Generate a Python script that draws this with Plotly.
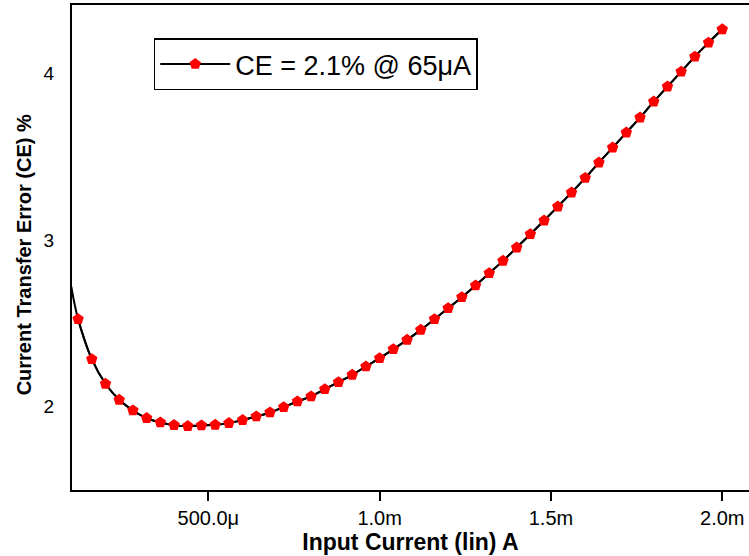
import plotly.graph_objects as go

# Input current (A) at each marker
current_a = [
    120e-6, 160e-6, 200e-6, 240e-6, 280e-6, 320e-6, 360e-6, 400e-6, 440e-6, 480e-6,
    520e-6, 560e-6, 600e-6, 640e-6, 680e-6, 720e-6, 760e-6, 800e-6, 840e-6, 880e-6,
    920e-6, 960e-6, 1000e-6, 1040e-6, 1080e-6, 1120e-6, 1160e-6, 1200e-6, 1240e-6, 1280e-6,
    1320e-6, 1360e-6, 1400e-6, 1440e-6, 1480e-6, 1520e-6, 1560e-6, 1600e-6, 1640e-6, 1680e-6,
    1720e-6, 1760e-6, 1800e-6, 1840e-6, 1880e-6, 1920e-6, 1960e-6, 2000e-6,
]
# Current transfer error (%) at each marker
ce_pct = [
    2.524, 2.284, 2.136, 2.040, 1.976, 1.930, 1.904, 1.888, 1.882, 1.886,
    1.890, 1.900, 1.918, 1.940, 1.964, 1.996, 2.030, 2.060, 2.104, 2.146,
    2.190, 2.240, 2.290, 2.344, 2.400, 2.460, 2.524, 2.590, 2.656, 2.726,
    2.800, 2.874, 2.954, 3.034, 3.116, 3.200, 3.284, 3.372, 3.464, 3.554,
    3.644, 3.734, 3.830, 3.920, 4.010, 4.100, 4.184, 4.264,
]
# Curve start (continuous simulation line begins before the first marker)
line_start_x = [100e-6]
line_start_y = [2.72]

x_tickvals = [500e-6, 1.0e-3, 1.5e-3, 2.0e-3]
x_ticktext = ["500.0\u03bc", "1.0m", "1.5m", "2.0m"]
y_tickvals = [2, 3, 4]
y_ticktext = ["2", "3", "4"]

legend_name = "CE = 2.1% @ 65\u03bcA"
x_title = "Input Current (lin) A"
y_title = "Current Transfer Error (CE) %"

FONT = "Arial, 'Liberation Sans', sans-serif"

fig = go.Figure()
fig.add_trace(go.Scatter(
    x=line_start_x + current_a, y=line_start_y + ce_pct,
    mode="lines", line=dict(color="black", width=2, shape="spline"),
    showlegend=False, hoverinfo="skip",
))
fig.add_trace(go.Scatter(
    x=current_a, y=ce_pct, name=legend_name,
    mode="lines+markers",
    line=dict(color="black", width=2, shape="spline"),
    marker=dict(symbol="pentagon", size=12, color="red", line=dict(width=0)),
))

fig.add_annotation(
    text="<b>" + y_title + "</b>", textangle=-90,
    xref="paper", yref="paper", x=-0.0715, y=0.485,
    xanchor="center", yanchor="middle", showarrow=False,
    font=dict(size=20, family=FONT, color="black"),
)

fig.update_layout(
    width=749, height=556,
    margin=dict(l=72, r=0, t=5, b=66),
    paper_bgcolor="white", plot_bgcolor="white",
    font=dict(family=FONT, color="black"),
    showlegend=True,
    legend=dict(
        x=0.1207, y=0.931, xanchor="left", yanchor="top",
        bgcolor="white", bordercolor="black", borderwidth=1.5,
        font=dict(size=27, family=FONT, color="black"),
        itemwidth=70,
    ),
    xaxis=dict(
        range=[0.1022e-3, 2.078e-3],
        tickvals=x_tickvals, ticktext=x_ticktext,
        ticks="outside", ticklen=9, tickwidth=2, tickcolor="black",
        showline=True, linewidth=2, linecolor="black", mirror=True,
        showgrid=False, zeroline=False,
        tickfont=dict(size=20, family=FONT),
        title=dict(text="<b>" + x_title + "</b>", font=dict(size=23, family=FONT), standoff=2),
    ),
    yaxis=dict(
        range=[1.4985, 4.41],
        tickvals=y_tickvals, ticktext=y_ticktext,
        ticks="", showline=True, linewidth=2, linecolor="black", mirror=False,
        showgrid=False, zeroline=False,
        tickfont=dict(size=19, family=FONT),
        ticklabelstandoff=12,
    ),
)

fig.write_html("out.html")
